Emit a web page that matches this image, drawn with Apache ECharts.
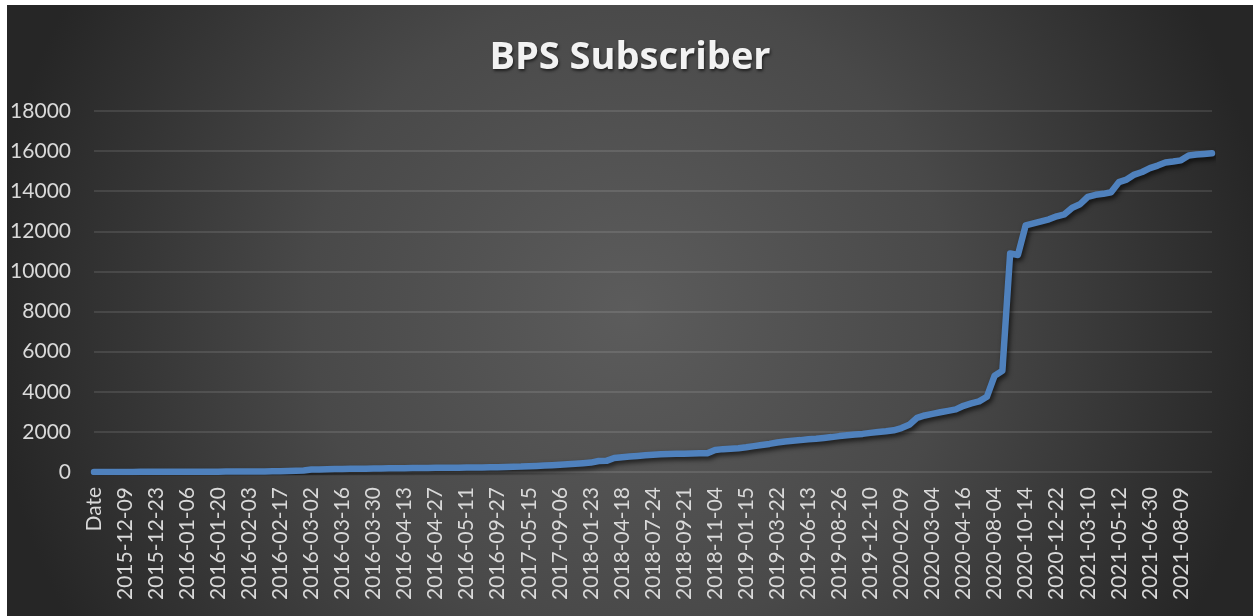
<!DOCTYPE html>
<html>
<head>
<meta charset="utf-8">
<script src="https://cdn.jsdelivr.net/npm/echarts@6/dist/echarts.min.js"></script>
<style>
  html, body { margin: 0; padding: 0; background: #ffffff; }
  #chart { position: absolute; left: 7px; top: 5px; width: 1246px; height: 611px; }
</style>
</head>
<body>
<div id="chart"></div>
<script>
// Visible tick labels (every 4th category)
const tickLabels = [
  'Date', '2015-12-09', '2015-12-23', '2016-01-06', '2016-01-20', '2016-02-03',
  '2016-02-17', '2016-03-02', '2016-03-16', '2016-03-30', '2016-04-13', '2016-04-27',
  '2016-05-11', '2016-09-27', '2017-05-15', '2017-09-06', '2018-01-23', '2018-04-18',
  '2018-07-24', '2018-09-21', '2018-11-04', '2019-01-15', '2019-03-22', '2019-06-13',
  '2019-08-26', '2019-12-10', '2020-02-09', '2020-03-04', '2020-04-16', '2020-08-04',
  '2020-10-14', '2020-12-22', '2021-03-10', '2021-05-12', '2021-06-30', '2021-08-09'
];
const labelEvery = 4;

// Subscriber counts (one per category)
const subscribers = [
  0, 0, 2, 4,
  5, 6, 7, 8,
  10, 11, 12, 13,
  14, 15, 16, 17,
  18, 20, 22, 24,
  26, 28, 30, 32,
  35, 45, 60, 80,
  120, 130, 138, 144,
  150, 156, 162, 167,
  172, 177, 182, 186,
  190, 194, 198, 202,
  206, 210, 214, 218,
  222, 226, 230, 235,
  240, 250, 260, 270,
  290, 305, 320, 340,
  360, 385, 410, 440,
  470, 550, 555, 700,
  740, 770, 800, 830,
  860, 880, 895, 905,
  915, 925, 935, 940,
  1100, 1140, 1165, 1185,
  1230, 1290, 1350, 1400,
  1470, 1520, 1560, 1590,
  1630, 1660, 1700, 1740,
  1790, 1830, 1870, 1900,
  1950, 1990, 2030, 2080,
  2190, 2350, 2700, 2820,
  2900, 2980, 3050, 3120,
  3300, 3420, 3520, 3750,
  4800, 5050, 10900, 10820,
  12300, 12400, 12500, 12600,
  12750, 12850, 13180, 13350,
  13720, 13820, 13870, 13950,
  14450, 14580, 14830, 14960,
  15150, 15280, 15430, 15480,
  15540, 15780, 15830, 15860,
  15890
];

const categories = subscribers.map((v, i) =>
  (i % labelEvery === 0 && tickLabels[i / labelEvery] !== undefined) ? tickLabels[i / labelEvery] : '');

const chart = echarts.init(document.getElementById('chart'));
chart.setOption({
  animation: false,
  backgroundColor: {
    type: 'radial', x: 0.5, y: 0.5, r: 1.05,
    colorStops: [
      { offset: 0, color: '#5c5c5c' },
      { offset: 0.5, color: '#494949' },
      { offset: 1, color: '#262626' }
    ]
  },
  title: {
    text: 'BPS Subscriber',
    left: 'center',
    top: 29,
    textStyle: {
      fontFamily: 'Open Sans',
      fontWeight: 'bold',
      fontSize: 38,
      color: '#f2f2f2',
      textShadowColor: 'rgba(0,0,0,0.6)',
      textShadowBlur: 3,
      textShadowOffsetX: 1,
      textShadowOffsetY: 2
    }
  },
  grid: { left: 87, right: 41, top: 106, bottom: 144, containLabel: false },
  xAxis: {
    type: 'category',
    data: categories,
    boundaryGap: false,
    axisLine: { show: false },
    axisTick: { show: false },
    axisLabel: {
      interval: labelEvery - 1,
      rotate: 90,
      margin: 15,
      color: '#d9d9d9',
      fontFamily: 'Lato',
      fontSize: 21
    },
    splitLine: { show: false }
  },
  yAxis: {
    type: 'value',
    min: 0,
    max: 18000,
    interval: 2000,
    axisLine: { show: false },
    axisTick: { show: false },
    axisLabel: {
      margin: 23,
      color: '#d9d9d9',
      fontFamily: 'Lato',
      fontSize: 21,
      formatter: function (v) { return String(v); }
    },
    splitLine: { lineStyle: { color: 'rgba(255,255,255,0.14)', width: 1.5 } }
  },
  series: [{
    type: 'line',
    data: subscribers,
    showSymbol: false,
    smooth: false,
    lineStyle: {
      color: '#4f81bd',
      width: 6.5,
      cap: 'round',
      join: 'round',
      shadowColor: 'rgba(0,0,0,0.65)',
      shadowBlur: 5,
      shadowOffsetX: 2,
      shadowOffsetY: 3
    }
  }]
});
</script>
</body>
</html>
